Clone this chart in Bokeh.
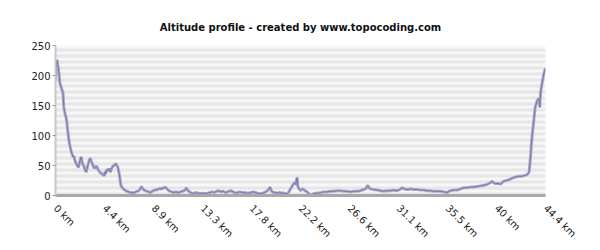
import math
import numpy as np
from bokeh.plotting import figure
from bokeh.models import FixedTicker, Range1d
from bokeh.embed import file_html
from bokeh.resources import INLINE

# distance (km) and altitude (m)
km = [0.0, 0.05, 0.1, 0.15, 0.2, 0.26, 0.3, 0.35, 0.39, 0.45, 0.5, 0.54, 0.6, 0.66, 0.7, 0.75,
      0.82, 0.9, 1.0, 1.05, 1.11, 1.18, 1.24, 1.3, 1.36, 1.45, 1.54, 1.6, 1.66, 1.72, 1.81, 1.9,
      1.99, 2.08, 2.15, 2.22, 2.28, 2.33, 2.4, 2.47, 2.56, 2.65, 2.72, 2.78, 2.85, 2.93, 3.0, 3.08,
      3.17, 3.22, 3.28, 3.35, 3.44, 3.53, 3.6, 3.68, 3.78, 3.85, 3.93, 4.01, 4.08, 4.15, 4.23, 4.3,
      4.37, 4.44, 4.5, 4.55, 4.62, 4.7, 4.76, 4.83, 4.9, 4.98, 5.05, 5.12, 5.23, 5.3, 5.38, 5.46,
      5.56, 5.65, 5.74, 5.83, 5.89, 5.95, 6.05, 6.19, 6.3, 6.45, 6.64, 6.8, 6.95, 7.09, 7.25, 7.4,
      7.55, 7.65, 7.72, 7.79, 7.88, 7.95, 8.05, 8.16, 8.3, 8.45, 8.61, 8.75, 8.9, 9.06, 9.2, 9.35,
      9.51, 9.6, 9.7, 9.8, 9.97, 10.1, 10.27, 10.4, 10.55, 10.72, 10.9, 11.1, 11.33, 11.5, 11.65,
      11.78, 11.86, 11.95, 12.1, 12.23, 12.4, 12.53, 12.7, 12.85, 12.98, 13.15, 13.35, 13.59, 13.8,
      14.0, 14.2, 14.4, 14.6, 14.8, 15.0, 15.2, 15.4, 15.6, 15.86, 16.1, 16.31, 16.5, 16.7, 16.92,
      17.1, 17.3, 17.52, 17.7, 17.9, 18.12, 18.3, 18.58, 18.8, 19.03, 19.2, 19.33, 19.45, 19.55,
      19.64, 19.85, 20.09, 20.3, 20.5, 20.69, 20.85, 20.99, 21.15, 21.29, 21.45, 21.59, 21.7, 21.78,
      21.84, 21.9, 21.96, 22.05, 22.2, 22.3, 22.44, 22.6, 22.81, 22.95, 23.11, 23.25, 23.41, 23.6,
      23.86, 24.1, 24.31, 24.6, 24.92, 25.2, 25.53, 25.8, 26.12, 26.4, 26.73, 27.0, 27.34, 27.6,
      27.94, 28.15, 28.3, 28.4, 28.54, 28.8, 29.15, 29.45, 29.75, 30.0, 30.36, 30.6, 30.96, 31.2,
      31.42, 31.6, 31.87, 32.2, 32.47, 32.8, 33.07, 33.4, 33.68, 34.0, 34.28, 34.6, 34.89, 35.2,
      35.49, 35.65, 35.79, 36.1, 36.4, 36.7, 37.0, 37.3, 37.6, 37.9, 38.21, 38.5, 38.81, 39.05,
      39.26, 39.45, 39.57, 39.7, 39.87, 40.1, 40.32, 40.5, 40.62, 40.85, 41.07, 41.3, 41.53, 41.75,
      41.98, 42.2, 42.43, 42.6, 42.74, 42.85, 42.92, 43.0, 43.06, 43.12, 43.2, 43.28, 43.34, 43.41,
      43.47, 43.55, 43.65, 43.72, 43.79, 43.85, 43.88, 43.92, 43.95, 44.02, 44.1, 44.18, 44.25,
      44.33, 44.4]
altitude = [190, 212, 222, 226, 218, 212, 206, 196, 188, 184, 182, 178, 176, 172, 166, 148,
            140, 134, 126, 118, 108, 97, 89, 84, 78, 72, 67, 64, 66, 61, 56, 52,
            49, 47, 52, 58, 63, 64, 57, 52, 50, 44, 41, 39, 44, 50, 55, 60,
            62, 58, 55, 53, 48, 45, 47, 49, 47, 43, 41, 39, 38, 37, 36, 34,
            34, 33, 40, 36, 42, 43, 41, 45, 42, 39, 44, 46, 50, 49, 52, 53,
            50, 47, 39, 30, 20, 16, 13, 10, 9, 7, 6, 5, 5, 4, 6, 7,
            8, 10, 13, 15, 12, 10, 9, 8, 7, 6, 5, 7, 8, 10, 9, 11,
            12, 10, 13, 12, 14, 11, 8, 7, 6, 5, 6, 5, 6, 7, 8,
            10, 13, 9, 7, 5, 4, 3, 5, 4, 4, 3, 4, 3, 4,
            5, 6, 5, 7, 8, 6, 7, 5, 6, 8, 6, 4, 5, 6, 5,
            5, 4, 4, 5, 6, 5, 4, 3, 4, 6, 8, 11, 14, 8,
            6, 5, 4, 5, 4, 4, 3, 3, 6, 11, 16, 20, 22, 18,
            26, 30, 15, 12, 8, 10, 11, 8, 6, 3, 1, 2, 3, 4,
            4, 5, 6, 6, 7, 7, 8, 8, 7, 7, 6, 7, 7, 8,
            10, 12, 17, 13, 11, 10, 9, 8, 7, 8, 8, 9, 8, 10,
            13, 11, 10, 11, 10, 10, 9, 9, 8, 8, 7, 7, 7, 6,
            5, 7, 8, 9, 9, 11, 13, 13, 14, 14, 15, 16, 17, 18,
            20, 22, 24, 21, 20, 20, 19, 22, 24, 25, 26, 28, 30, 31,
            32, 32, 33, 34, 35, 37, 40, 55, 68, 85, 102, 115, 125, 138,
            147, 152, 158, 160, 162, 158, 147, 160, 170, 180, 188, 196, 203,
            208, 212]

x_ticks = [0.0, 4.44, 8.88, 13.32, 17.76, 22.2, 26.64, 31.08, 35.52, 39.96, 44.4]
x_tick_labels = ["0 km", "4.4 km", "8.9 km", "13.3 km", "17.8 km", "22.2 km",
                 "26.6 km", "31.1 km", "35.5 km", "40 km", "44.4 km"]
y_ticks = [0, 50, 100, 150, 200, 250]
title_text = "Altitude profile - created by www.topocoding.com"

p = figure(width=600, height=250, output_backend="svg", toolbar_location=None,
           x_range=Range1d(0, 44.4), y_range=Range1d(0, 250),
           min_border_left=55, min_border_right=55, min_border_top=45, min_border_bottom=55,
           title=title_text)
p.title.align = "center"
p.title.text_font = "DejaVu Sans"
p.title.text_font_size = "10px"
p.title.text_font_style = "bold"
p.title.text_color = "#111111"
p.title.standoff = 26
p.outline_line_color = None
p.background_fill_color = "#f7f7f7"
p.border_fill_color = "white"
p.grid.visible = False

# striped background
edges = np.arange(0, 250, 10)
p.quad(left=0, right=44.4, bottom=edges, top=edges + 5, fill_color="#e6e6e6", line_color=None)

# profile band
p.line(km, altitude, line_color="#a9a9cf", line_width=3)
p.line(km, altitude, line_color="#7a7aa0", line_width=1)

p.xaxis.ticker = FixedTicker(ticks=x_ticks)
p.xaxis.major_label_overrides = {t: l for t, l in zip(x_ticks, x_tick_labels)}
p.xaxis.major_label_orientation = -math.pi / 4
p.xaxis.axis_line_color = "#a8a8a8"
p.xaxis.axis_line_width = 3
p.xaxis.major_tick_line_color = None
p.xaxis.minor_tick_line_color = None
p.xaxis.major_label_text_font = "DejaVu Sans"
p.xaxis.major_label_text_font_size = "10px"
p.xaxis.major_label_text_color = "#222222"

p.yaxis.ticker = FixedTicker(ticks=y_ticks)
p.yaxis.axis_line_color = "#c8c8c8"
p.yaxis.axis_line_width = 2
p.yaxis.major_tick_line_color = "#999999"
p.yaxis.major_tick_in = 0
p.yaxis.major_tick_out = 3
p.yaxis.minor_tick_line_color = None
p.yaxis.major_label_standoff = 2
p.yaxis.major_label_text_font = "DejaVu Sans"
p.yaxis.major_label_text_font_size = "10px"
p.yaxis.major_label_text_color = "#222222"

open("out.html", "w").write(file_html(p, INLINE))
